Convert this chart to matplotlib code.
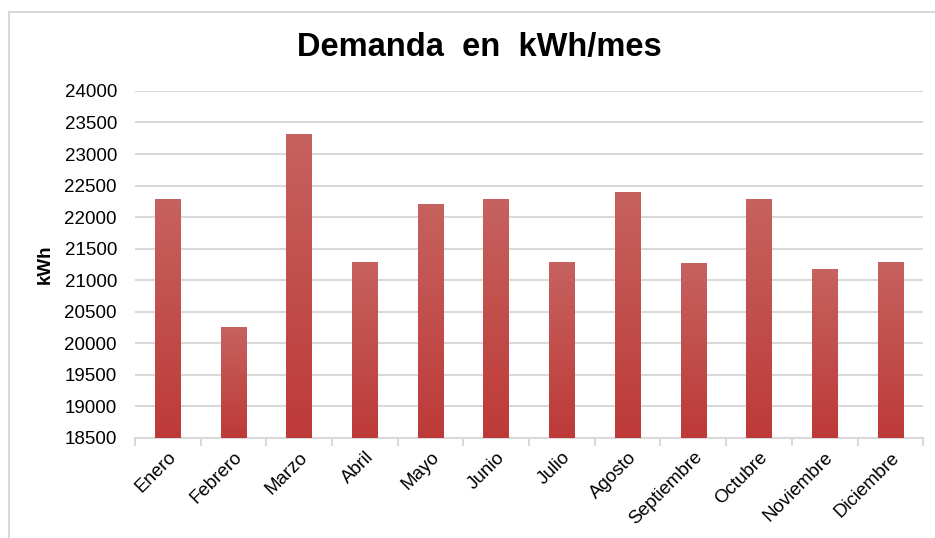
import numpy as np
import matplotlib
matplotlib.use("Agg")
import matplotlib.pyplot as plt
from matplotlib.colors import LinearSegmentedColormap
from matplotlib.patches import Rectangle

plt.rcParams['font.family'] = ['Liberation Sans', 'DejaVu Sans']

# Datos
meses = ["Enero", "Febrero", "Marzo", "Abril", "Mayo", "Junio",
         "Julio", "Agosto", "Septiembre", "Octubre", "Noviembre", "Diciembre"]
demanda = [22290, 20260, 23320, 21290, 22200, 22290,
           21290, 22400, 21270, 22290, 21180, 21290]
yticks = list(range(18500, 24001, 500))

fig = plt.figure(figsize=(9.35, 5.38), dpi=100)
ax = fig.add_axes([0.1444, 0.1864, 0.843, 0.6445])

# marco del grafico (cortado a la derecha y abajo)
fig.patches.append(Rectangle((9 / 935, -0.1), 1.2, 1 - 12 / 538 + 0.1,
                             transform=fig.transFigure, fill=False,
                             edgecolor="#d9d9d9", linewidth=1.5, zorder=0))

x = np.arange(len(meses))
bars = ax.bar(x, demanda, width=0.39, color="none", edgecolor="none", zorder=3)

# degradado vertical en cada barra
cmap = LinearSegmentedColormap.from_list("rojo", ["#bd3a38", "#c6625f"])
grad = np.linspace(0, 1, 256).reshape(-1, 1)
for b in bars:
    x0, y0 = b.get_x(), b.get_y()
    w, h = b.get_width(), b.get_height()
    im = ax.imshow(grad, cmap=cmap, origin="lower", aspect="auto",
                   extent=[x0, x0 + w, 18500, y0 + h], zorder=3)
    im.set_clip_path(b)

ax.set_xlim(-0.5, len(meses) - 0.5)
ax.set_ylim(18500, 24000)
ax.set_yticks(yticks)
ax.set_yticklabels([str(v) for v in yticks], fontsize=13.5)
ax.tick_params(axis="y", length=0, pad=13)

ax.set_xticks(x)
ax.set_xticklabels(meses, rotation=45, ha="right", rotation_mode="anchor", fontsize=13.5)
ax.tick_params(axis="x", length=0, pad=8)
# marcas entre categorias
ax.set_xticks(np.arange(-0.5, len(meses)), minor=True)
ax.tick_params(axis="x", which="minor", length=6, color="#d9d9d9", width=1.5)

ax.yaxis.grid(True, color="#d9d9d9", linewidth=1.5, zorder=0)
ax.set_axisbelow(True)
for s in ["top", "right", "left"]:
    ax.spines[s].set_visible(False)
ax.spines["bottom"].set_color("#d9d9d9")
ax.spines["bottom"].set_linewidth(1.5)

ax.set_ylabel("kWh", fontsize=13.5, fontweight="bold", labelpad=8)
fig.text(0.513, 0.912, "Demanda  en  kWh/mes", fontsize=23.5, fontweight="bold",
         ha="center", va="center")

fig.savefig("out.png", dpi=100)
